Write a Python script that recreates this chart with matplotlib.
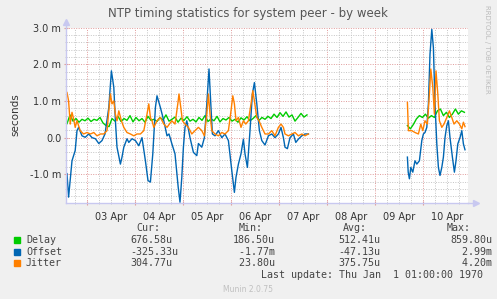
import numpy as np
import matplotlib
matplotlib.use("Agg")
import matplotlib.pyplot as plt
from matplotlib.ticker import MultipleLocator, FuncFormatter

# hours since 03 Apr 00:00, values in milliseconds
offset_h1 = [-10, -9.2, -7.5, -5.9, -5, -4.2, -2.5, -0.9, 0.9, 2.5, 4.2, 5.9, 7.5, 9, 10.9,
             12.2, 13.4, 14.2, 15, 16.7, 17.5, 18.4, 20, 20.9, 22.5, 24.2, 25.9, 27.5, 29.2,
             30.5, 31.7, 32.9, 34.2, 35, 36.7, 38.4, 40, 41, 42.4, 44, 45.6, 46.5, 47.4, 48.2,
             49, 49.9, 51.5, 53.2, 54.9, 55.7, 57.4, 58.7, 59.9, 61, 61.9, 62.7, 64, 65.7, 67.4,
             69, 70.7, 72.4, 73.7, 74.5, 75.7, 77, 78.2, 79, 80.2, 81.5, 82.7, 83.7, 84.9, 86.2,
             87.4, 89, 90.7, 92.4, 94, 95.7, 97, 98.2, 99, 100.2, 101.5, 103.2, 104.4, 105.7,
             107.4, 109, 110.7]
offset_v1 = [-0.98, -1.62, -0.63, -0.35, 0.19, 0.28, 0.05, 0.01, 0.1, 0.0, -0.03, -0.16, -0.08,
             0.1, 0.82, 1.82, 1.37, 0.46, -0.26, -0.72, -0.53, -0.26, -0.03, -0.13, -0.03, -0.08,
             -0.22, 0.0, -0.63, -1.17, -1.21, -0.44, 0.82, 1.14, 0.82, 0.46, 0.05, 0.1, -0.16,
             -0.44, -1.35, -1.76, -1.08, -0.26, 0.28, 0.46, 0.0, -0.4, -0.49, -0.16, -0.26, 0.0,
             0.92, 1.87, 0.92, 0.1, 0.05, 0.19, 0.0, 0.1, -0.08, -0.9, -1.49, -1.08, -0.72, -0.44,
             -0.04, -0.44, -0.81, 0.19, 1.19, 1.5, 0.92, 0.19, -0.08, -0.2, 0.05, 0.1, 0.0, 0.1,
             0.28, 0.0, -0.26, -0.3, 0.0, 0.1, -0.13, -0.04, 0.05, 0.1, 0.1]
offset_h2 = [160.2, 160.6, 161.2, 161.9, 162.9, 164, 164.9, 166.2, 167.4, 168.2, 169, 169.9,
             170.7, 171.5, 172.4, 173.2, 174, 174.9, 175.7, 176.5, 177.4, 178.2, 179, 179.9,
             180.7, 181.5, 182.7, 183.7, 184.5, 185.4, 186.5, 187.4, 188.2, 189]
offset_v2 = [-0.53, -0.94, -1.12, -0.81, -0.94, -0.63, -0.72, -0.63, -0.08, 0.1, 0.14, 0.28,
             0.92, 2.27, 2.95, 2.45, 0.92, -0.17, -0.81, -1.03, -0.81, -0.53, 0.0, 0.33, 0.46,
             0.0, -0.53, -0.94, -0.63, -0.17, 0.0, 0.19, -0.17, -0.33]

jitter_h1 = [-10, -9.2, -8.4, -7.5, -6.7, -5.9, -5, -3.4, -1.7, 0, 1.7, 3.4, 5, 6.7, 8.4, 10,
             11.7, 12.5, 13.4, 14.2, 15, 15.9, 17.2, 18.4, 20, 21.7, 23.4, 25, 26.7, 28.4, 30,
             30.9, 31.7, 32.5, 33.4, 35, 36.7, 38.4, 40, 42.4, 44, 45.4, 46, 46.9, 47.7, 49,
             50.7, 52.4, 54, 55.7, 57.4, 58.7, 59.9, 60.7, 61.5, 62.4, 64, 65.7, 67.4, 69, 70.7,
             72, 72.9, 73.7, 74.5, 75.7, 77, 78.2, 79.4, 80.7, 82, 82.9, 83.7, 84.9, 86, 87.4,
             89, 90.7, 92.4, 94, 95.7, 97, 98.2, 99, 100.7, 102.4, 104, 105.7, 107.4, 109, 110.7]
jitter_v1 = [1.23, 1.0, 0.37, 0.69, 0.51, 0.28, 0.46, 0.19, 0.1, 0.14, 0.1, 0.14, 0.05, 0.1,
             0.1, 0.19, 1.19, 0.92, 1.0, 0.64, 0.46, 0.73, 0.46, 0.28, 0.14, 0.1, 0.05, 0.1, 0.1,
             0.19, 0.64, 0.92, 0.55, 0.46, 0.28, 0.46, 0.55, 0.37, 0.28, 0.46, 0.37, 0.92, 1.19,
             0.82, 0.46, 0.37, 0.28, 0.1, 0.19, 0.28, 0.19, 0.05, 0.64, 1.19, 0.64, 0.19, 0.1,
             0.05, 0.14, 0.1, 0.19, 0.73, 1.14, 0.92, 0.46, 0.55, 0.28, 0.46, 0.37, 0.46, 0.92,
             1.28, 1.0, 0.55, 0.46, 0.28, 0.1, 0.1, 0.19, 0.05, 0.28, 0.37, 0.28, 0.1, 0.05, 0.1,
             0.14, 0.05, 0.1, 0.05, 0.1]
jitter_h2 = [160.2, 160.7, 162.4, 164, 165.7, 166.9, 167.9, 169, 170.2, 171.2, 171.9, 172.9,
             173.7, 174.5, 175.4, 176.2, 177.4, 178.5, 179.9, 181.2, 182.4, 183.5, 184.9, 186.2,
             187.4, 188.2, 189]
jitter_v2 = [0.96, 0.19, 0.19, 0.14, 0.1, 0.37, 0.19, 0.46, 0.37, 1.19, 1.87, 1.37, 0.64, 1.82,
             1.19, 0.46, 0.28, 0.37, 0.55, 0.73, 0.55, 0.37, 0.46, 0.37, 0.24, 0.42, 0.30]

# delay sampled every 1.5 h
delay_v1 = [0.38, 0.62, 0.45, 0.52, 0.42, 0.50, 0.46, 0.53, 0.44, 0.50, 0.47, 0.55, 0.40, 0.33,
            0.30, 0.52, 0.45, 0.58, 0.44, 0.52, 0.47, 0.60, 0.43, 0.55, 0.46, 0.52, 0.42, 0.58,
            0.47, 0.50, 0.44, 0.55, 0.48, 0.62, 0.45, 0.50, 0.56, 0.42, 0.53, 0.47, 0.57, 0.45,
            0.50, 0.43, 0.55, 0.47, 0.60, 0.44, 0.51, 0.46, 0.58, 0.43, 0.52, 0.48, 0.55, 0.45,
            0.50, 0.42, 0.54, 0.48, 0.57, 0.46, 0.52, 0.60, 0.47, 0.55, 0.50, 0.58, 0.52, 0.64,
            0.55, 0.68, 0.58, 0.70, 0.56, 0.62, 0.45, 0.55, 0.66, 0.56, 0.62]
delay_v2 = [0.33, 0.24, 0.36, 0.51, 0.60, 0.55, 0.64, 0.53, 0.60, 0.55, 0.73, 0.78, 0.60, 0.69,
            0.55, 0.64, 0.78, 0.64, 0.73, 0.69]
delay_h1 = -10 + 1.5 * np.arange(len(delay_v1))
delay_h2 = 160.2 + 1.5 * np.arange(len(delay_v2))

day_labels = ["03 Apr", "04 Apr", "05 Apr", "06 Apr", "07 Apr", "08 Apr", "09 Apr", "10 Apr"]

names = ["Delay", "Offset", "Jitter"]
colors = ["#00cc00", "#0066b3", "#ff8000"]
cur = ["676.58u", "-325.33u", "304.77u"]
mins = ["186.50u", " -1.77m", " 23.80u"]
avgs = ["512.41u", "-47.13u", "375.75u"]
maxs = ["859.80u", "  2.99m", "  4.20m"]

W, H = 497, 299
fig = plt.figure(figsize=(W / 100, H / 100), dpi=100, facecolor="#f0f0f0")
ax = fig.add_axes([66 / W, 1 - 203 / H, (468 - 66) / W, (203 - 27.5) / H])
ax.set_facecolor("white")

lw = 1.0
ax.plot(delay_h1, delay_v1, color=colors[0], lw=lw)
ax.plot(delay_h2, delay_v2, color=colors[0], lw=lw)
ax.plot(offset_h1, offset_v1, color=colors[1], lw=lw)
ax.plot(offset_h2, offset_v2, color=colors[1], lw=lw)
ax.plot(jitter_h1, jitter_v1, color=colors[2], lw=lw)
ax.plot(jitter_h2, jitter_v2, color=colors[2], lw=lw)

ax.set_xlim(-10.5, 190.5)
ax.set_ylim(-1.78, 3.0)

ax.xaxis.set_major_locator(MultipleLocator(24))
ax.xaxis.set_minor_locator(MultipleLocator(6))
ax.yaxis.set_major_locator(MultipleLocator(1.0))
ax.yaxis.set_minor_locator(MultipleLocator(0.2))
ax.grid(which="minor", color="#c4c4c4", ls=(0, (1, 1.5)), lw=0.7)
ax.grid(which="major", color="#e09a9a", ls=(0, (1, 1.5)), lw=0.7)
ax.set_axisbelow(True)


def yfmt(v, pos):
    if abs(v) < 1e-9:
        return "0.0"
    return "%.1f m" % v


ax.yaxis.set_major_formatter(FuncFormatter(yfmt))
ax.xaxis.set_major_formatter(FuncFormatter(lambda v, p: ""))
ax.tick_params(which="major", length=3, color="#e09a9a", direction="inout",
               labelsize=7, labelcolor="#333333", pad=2)
ax.tick_params(which="minor", length=2, color="#c4c4c4", direction="inout")

for i, lab in enumerate(day_labels):
    ax.text(12 + 24 * i, -0.05, lab, transform=ax.get_xaxis_transform(),
            ha="center", va="top", fontsize=7, color="#333333")

for s in ["top", "right"]:
    ax.spines[s].set_visible(False)
for s in ["left", "bottom"]:
    ax.spines[s].set_color("#c8c8f0")
    ax.spines[s].set_linewidth(1.0)
ax.plot([0, 0], [1.0, 1.03], transform=ax.transAxes, color="#c8c8f0", lw=1, clip_on=False)
ax.plot([1.0, 1.02], [0, 0], transform=ax.transAxes, color="#c8c8f0", lw=1, clip_on=False)
ax.plot([0], [1.03], marker="^", ms=4, color="#c8c8f0", transform=ax.transAxes, clip_on=False)
ax.plot([1.02], [0], marker=">", ms=4, color="#c8c8f0", transform=ax.transAxes, clip_on=False)

fig.text(248 / W, 1 - 13 / H, "NTP timing statistics for system peer - by week",
         ha="center", va="center", fontsize=8.5, color="#555555")
fig.text(15 / W, 1 - 115 / H, "seconds", rotation=90, ha="center", va="center",
         fontsize=7.5, color="#333333")
fig.text(487 / W, 1 - 5 / H, "RRDTOOL / TOBI OETIKER", rotation=270, ha="center", va="top",
         fontsize=5, color="#bbbbbb")

mono = "DejaVu Sans Mono"
fs = 7.2
tc = "#444444"
hy = 1 - 228 / H
for x, t in [(136, "Cur:"), (239, "Min:"), (343, "Avg:"), (447, "Max:")]:
    fig.text(x / W, hy, t, family=mono, fontsize=fs, color=tc, va="center")
rows_y = [240, 251.7, 263.3]
for i in range(3):
    y = 1 - rows_y[i] / H
    fig.patches.append(plt.Rectangle((14 / W, y - 3 / H), 6 / W, 6 / H, color=colors[i],
                                     transform=fig.transFigure, figure=fig))
    fig.text(26 / W, y, names[i], family=mono, fontsize=fs, color=tc, va="center")
    fig.text(130 / W, y, cur[i], family=mono, fontsize=fs, color=tc, va="center")
    fig.text(233 / W, y, mins[i], family=mono, fontsize=fs, color=tc, va="center")
    fig.text(338 / W, y, avgs[i], family=mono, fontsize=fs, color=tc, va="center")
    fig.text(450 / W, y, maxs[i], family=mono, fontsize=fs, color=tc, va="center")
fig.text(483 / W, 1 - 275.5 / H, "Last update: Thu Jan  1 01:00:00 1970", family=mono,
         fontsize=fs, color=tc, va="center", ha="right")
fig.text(248 / W, 1 - 289 / H, "Munin 2.0.75", fontsize=5.5, color="#c0c0c0",
         ha="center", va="center")

fig.savefig("out.png", dpi=100, facecolor=fig.get_facecolor())
